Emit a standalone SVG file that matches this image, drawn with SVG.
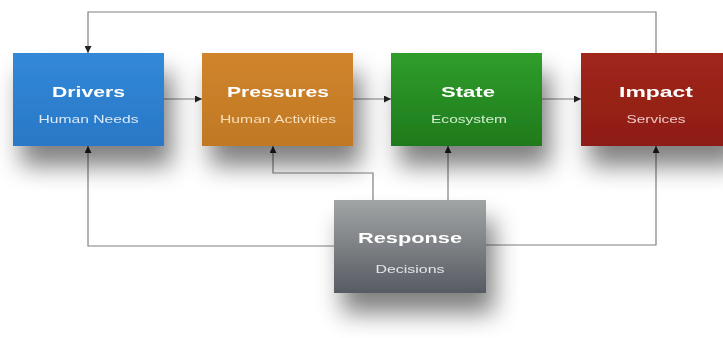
<svg xmlns="http://www.w3.org/2000/svg" width="723" height="338" viewBox="0 0 723 338">
<defs>
<filter id="sh" x="-40%" y="-40%" width="190%" height="230%">
<feGaussianBlur in="SourceAlpha" stdDeviation="12"/>
<feOffset dx="8" dy="20" result="b"/>
<feComponentTransfer><feFuncA type="linear" slope="0.5"/></feComponentTransfer>
<feMerge><feMergeNode/><feMergeNode in="SourceGraphic"/></feMerge>
</filter>
<linearGradient id="gB" x1="0" y1="0" x2="0" y2="1"><stop offset="0" stop-color="#3189d8"/><stop offset="1" stop-color="#2a78c6"/></linearGradient>
<linearGradient id="gP" x1="0" y1="0" x2="0" y2="1"><stop offset="0" stop-color="#d0852c"/><stop offset="1" stop-color="#c07824"/></linearGradient>
<linearGradient id="gS" x1="0" y1="0" x2="0" y2="1"><stop offset="0" stop-color="#2f9e2b"/><stop offset="1" stop-color="#1f7a1c"/></linearGradient>
<linearGradient id="gI" x1="0" y1="0" x2="0" y2="1"><stop offset="0" stop-color="#a0261c"/><stop offset="1" stop-color="#8e1d14"/></linearGradient>
<linearGradient id="gR" x1="0" y1="0" x2="0" y2="1"><stop offset="0" stop-color="#a2a5a5"/><stop offset="1" stop-color="#575b63"/></linearGradient>
<marker id="ar" viewBox="0 0 10 10" refX="10" refY="5" markerWidth="7" markerHeight="7" markerUnits="userSpaceOnUse" orient="auto"><path d="M0,0 L10,5 L0,10 z" fill="#222"/></marker>
</defs>
<style>
.t{font-family:"Liberation Sans",Arial,sans-serif;font-weight:bold;font-size:15.5px;fill:#fff;text-anchor:middle}
.s{font-family:"Liberation Sans",Arial,sans-serif;font-size:10.5px;text-anchor:middle}
.c{fill:none;stroke:#808080;stroke-width:1.2}
</style>
<rect width="723" height="338" fill="#fff"/>
<g id="connectors">
<path class="c" d="M656,53 V12 H88 V53" marker-end="url(#ar)"/>
<path class="c" d="M164,99 H202" marker-end="url(#ar)"/>
<path class="c" d="M353,99 H391" marker-end="url(#ar)"/>
<path class="c" d="M542,99 H581" marker-end="url(#ar)"/>
<path class="c" d="M334,246 H88 V146" marker-end="url(#ar)"/>
<path class="c" d="M486,245 H656 V146" marker-end="url(#ar)"/>
<path class="c" d="M373,200 V173 H273 V146" marker-end="url(#ar)"/>
<path class="c" d="M448,200 V146" marker-end="url(#ar)"/>
</g>
<g id="drivers" filter="url(#sh)">
<rect x="13" y="53" width="151" height="93" fill="url(#gB)"/>
<text class="t" x="88.5" y="97" textLength="73" lengthAdjust="spacingAndGlyphs">Drivers</text>
<text class="s" x="88.5" y="123" fill="#dbe8f6" textLength="100" lengthAdjust="spacingAndGlyphs">Human Needs</text>
</g>
<g id="pressures" filter="url(#sh)">
<rect x="202" y="53" width="151" height="93" fill="url(#gP)"/>
<text class="t" x="278" y="97" fill="#fdf3e2" textLength="102" lengthAdjust="spacingAndGlyphs">Pressures</text>
<text class="s" x="278" y="123" fill="#f6dfb8" textLength="116" lengthAdjust="spacingAndGlyphs">Human Activities</text>
</g>
<g id="state" filter="url(#sh)">
<rect x="391" y="53" width="151" height="93" fill="url(#gS)"/>
<text class="t" x="468" y="97" fill="#e6f7e2" textLength="54" lengthAdjust="spacingAndGlyphs">State</text>
<text class="s" x="469" y="123" fill="#d4efcf" textLength="76" lengthAdjust="spacingAndGlyphs">Ecosystem</text>
</g>
<g id="impact" filter="url(#sh)">
<rect x="581" y="53" width="151" height="93" fill="url(#gI)"/>
<text class="t" x="656" y="97" fill="#f6e4e2" textLength="74" lengthAdjust="spacingAndGlyphs">Impact</text>
<text class="s" x="656" y="123" fill="#f0c9c4" textLength="59" lengthAdjust="spacingAndGlyphs">Services</text>
</g>
<g id="response" filter="url(#sh)">
<rect x="334" y="200" width="152" height="93" fill="url(#gR)"/>
<text class="t" x="410" y="243" textLength="104" lengthAdjust="spacingAndGlyphs">Response</text>
<text class="s" x="410" y="273" fill="#e4e6ea" textLength="69" lengthAdjust="spacingAndGlyphs">Decisions</text>
</g>
</svg>
